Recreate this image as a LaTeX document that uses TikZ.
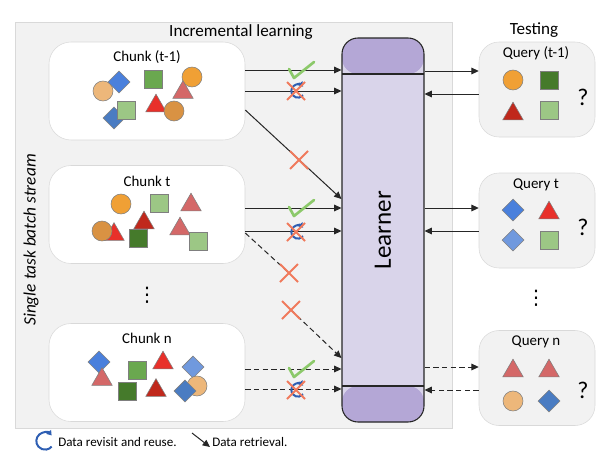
\documentclass[tikz,border=0pt]{standalone}
\usepackage{fontspec}
\setmainfont{Carlito}
\newfontfamily\symfont{DejaVu Sans}
\usetikzlibrary{arrows.meta,shapes.geometric}
\definecolor{panelfill}{HTML}{F2F2F2}
\definecolor{paneledge}{HTML}{D9D9D9}
\definecolor{lrnhead}{HTML}{B4A7D6}
\definecolor{lrnbody}{HTML}{D9D4EA}
\definecolor{shpedge}{HTML}{7F7F7F}
\definecolor{orng}{HTML}{F0A035}
\definecolor{lorng}{HTML}{EDB77A}
\definecolor{dorng}{HTML}{D99243}
\definecolor{blu}{HTML}{4A80DC}
\definecolor{dblu}{HTML}{4A7CC2}
\definecolor{lblu}{HTML}{7099DE}
\definecolor{grn}{HTML}{6AA84F}
\definecolor{lgrn}{HTML}{9CC785}
\definecolor{dgrn}{HTML}{457A2B}
\definecolor{rd}{HTML}{E8302A}
\definecolor{drd}{HTML}{C0281C}
\definecolor{pnk}{HTML}{D46868}
\definecolor{tickc}{HTML}{8CC96A}
\definecolor{crossc}{HTML}{F07A5C}
\definecolor{revc}{HTML}{2F5FB3}
\definecolor{conc}{HTML}{262626}
\tikzset{
  titletxt/.style={font=\fontsize{12.8}{15}\selectfont},
  lbl/.style={font=\fontsize{11.2}{13}\selectfont, inner sep=0pt},
  legendtxt/.style={font=\fontsize{9.8}{11}\selectfont, inner sep=0pt, anchor=west},
  qmark/.style={font=\fontsize{18}{20}\selectfont, inner sep=0pt},
  vdts/.style={font=\symfont\fontsize{15}{17}\selectfont, inner sep=0pt},
  chunkbox/.style={draw=paneledge, fill=white, rounded corners=16.5pt,
    minimum width=147pt, minimum height=73.5pt, inner sep=0pt},
  querybox/.style={draw=paneledge, fill=panelfill, rounded corners=15pt,
    minimum width=87pt, minimum height=71.25pt, inner sep=0pt},
  circ/.style={circle, draw=shpedge, minimum size=15pt, inner sep=0pt},
  sq/.style={rectangle, draw=shpedge, minimum size=13.5pt, inner sep=0pt},
  tri/.style={regular polygon, regular polygon sides=3, draw=shpedge,
    minimum size=17.8pt, inner sep=0pt},
  dia/.style={diamond, draw=shpedge, minimum size=16.5pt, inner sep=0pt},
  conn/.style={draw=conc, line width=0.75pt, -{Triangle[length=5.5pt,width=5pt]}},
  dline/.style={draw=conc, line width=0.75pt, dash pattern=on 4pt off 2.5pt},
  dconn/.style={conn, dash pattern=on 4pt off 2.5pt},
  tick/.pic={\draw[tickc, line width=2pt, line cap=round, line join=round]
    (-11,-1) -- (-6,8) -- (14,-8);},
  cross/.pic={\draw[crossc, line width=1.4pt] (-9,-9) -- (9,9) (-9,9) -- (9,-9);},
  revisit/.pic={\draw[revc, line width=1.5pt, {Triangle[length=3.5pt,width=4.5pt]}-]
    (40:5pt) arc[start angle=40, end angle=320, radius=5pt];},
}
\begin{document}
\begin{tikzpicture}[x=0.75pt,y=-0.75pt]
  \useasboundingbox (0,0) rectangle (598,450);
  % stream panel
  \node[draw=paneledge, fill=panelfill, minimum width=327.75pt,
    minimum height=304.5pt, inner sep=0pt] (panel) at (233.5,225) {};
  \node[titletxt] (inc) at (241,32) {Incremental learning};
  \node[titletxt] (test) at (534,30) {Testing};
  \node[font=\fontsize{13}{15}\selectfont\itshape, rotate=90] (stream) at (31,240)
    {Single task batch stream};

  % chunks
  \node[chunkbox] (ct1) at (147,91) {};
  \node[chunkbox] (ct) at (147,214.5) {};
  \node[chunkbox] (cn) at (147,372.5) {};
  \node[lbl] (lct1) at (147,57) {Chunk (t-1)};
  \node[lbl] (lct) at (147,181) {Chunk t};
  \node[lbl] (lcn) at (147,338) {Chunk n};
  \node[vdts] (cdots) at (147,295) {⋮};

  % chunk (t-1)
  \node[circ, fill=lorng] (a1) at (103,91) {};
  \node[dia, fill=blu] (a2) at (119,82) {};
  \node[sq, fill=grn] (a3) at (153,79) {};
  \node[circ, fill=orng] (a4) at (192,77) {};
  \node[tri, fill=pnk] (a5) at (183,92.5) {};
  \node[tri, fill=rd] (a6) at (156,106) {};
  \node[circ, fill=dorng] (a7) at (174,111) {};
  \node[dia, fill=dblu] (a8) at (114,118) {};
  \node[sq, fill=lgrn] (a9) at (126,110) {};

  % chunk t
  \node[circ, fill=orng] (b1) at (121,204) {};
  \node[sq, fill=lgrn] (b2) at (159,203) {};
  \node[tri, fill=pnk] (b3) at (191,205) {};
  \node[tri, fill=drd] (b4) at (144,223) {};
  \node[tri, fill=rd] (b5) at (114,234.5) {};
  \node[circ, fill=dorng] (b6) at (102,231) {};
  \node[sq, fill=dgrn] (b7) at (138,238) {};
  \node[tri, fill=pnk] (b8) at (180,229) {};
  \node[sq, fill=lgrn] (b9) at (198,241) {};

  % chunk n
  \node[dia, fill=blu] (c1) at (99,362) {};
  \node[tri, fill=pnk] (c2) at (102,379.5) {};
  \node[sq, fill=grn] (c3) at (137,370) {};
  \node[tri, fill=rd] (c4) at (163,363) {};
  \node[dia, fill=lblu] (c5) at (193,367) {};
  \node[circ, fill=lorng] (c6) at (197,386) {};
  \node[dia, fill=dblu] (c7) at (185,391) {};
  \node[sq, fill=dgrn] (c8) at (127,391) {};
  \node[tri, fill=drd] (c9) at (156,390.5) {};

  % learner
  \node[draw=conc, line width=0.8pt, fill=lrnbody, rounded corners=12pt,
    minimum width=61.5pt, minimum height=288pt, inner sep=0pt,
    path picture={
      \fill[lrnhead] (path picture bounding box.north west) rectangle
        ([yshift=-27pt]path picture bounding box.north east);
      \fill[lrnhead] (path picture bounding box.south west) rectangle
        ([yshift=27pt]path picture bounding box.south east);
      \draw[conc, line width=1pt] ([yshift=-27pt]path picture bounding box.north west)
        -- ([yshift=-27pt]path picture bounding box.north east);
      \draw[conc, line width=1pt] ([yshift=27pt]path picture bounding box.south west)
        -- ([yshift=27pt]path picture bounding box.south east);
    }] (learner) at (383,230) {};
  \node[font=\fontsize{18.8}{22}\selectfont, rotate=90] (llearn) at (learner.center) {Learner};

  % queries
  \node[querybox] (qt1) at (537,89.5) {};
  \node[querybox] (qt) at (537,220.5) {};
  \node[querybox] (qn) at (537,378) {};
  \node[lbl] (lqt1) at (536,53) {Query (t-1)};
  \node[lbl] (lqt) at (536,185) {Query t};
  \node[lbl] (lqn) at (536,342) {Query n};
  \node[vdts] (qdots) at (536,298) {⋮};

  \node[circ, fill=orng] (p1) at (513,80) {};
  \node[sq, fill=dgrn] (p2) at (549,80) {};
  \node[tri, fill=drd] (p3) at (513,114) {};
  \node[sq, fill=lgrn] (p4) at (549,110) {};
  \node[qmark] (qm1) at (583,97) {?};

  \node[dia, fill=blu] (q1) at (513,210) {};
  \node[tri, fill=rd] (q2) at (549,213) {};
  \node[dia, fill=lblu] (q3) at (513,240) {};
  \node[sq, fill=lgrn] (q4) at (549,240) {};
  \node[qmark] (qm2) at (583,227) {?};

  \node[tri, fill=pnk] (r1) at (513,371) {};
  \node[tri, fill=pnk] (r2) at (549,371) {};
  \node[circ, fill=lorng] (r3) at (513,401) {};
  \node[dia, fill=dblu] (r4) at (549,401) {};
  \node[qmark] (qm3) at (583,390) {?};

  % connectors
  \coordinate (xa) at (289,273);
  \coordinate (xb) at (291,310);
  \begin{scope}
    \draw[conn] (ct1.east |- 0,70) -- (learner.west |- 0,70);
    \draw[conn] (ct1.east |- 0,91) -- (learner.west |- 0,91);
    \draw[conn] (ct1.east |- 0,110) -- (learner.west |- 0,199);
    \draw[conn] (ct.east |- 0,208) -- (learner.west |- 0,208);
    \draw[conn] (ct.east |- 0,231) -- (learner.west |- 0,231);
    \draw[dline] (ct.east |- 0,233) -- (xa);
    \draw[dconn] (xb) -- (learner.west |- 0,358);
    \draw[dconn] (cn.east |- 0,369) -- (learner.west |- 0,369);
    \draw[dconn] (cn.east |- 0,389) -- (learner.west |- 0,389);
    \draw[conn] (learner.east |- 0,71) -- (qt1.west |- 0,71);
    \draw[conn] (qt1.west |- 0,94) -- (learner.east |- 0,94);
    \draw[conn] (learner.east |- 0,208) -- (qt.west |- 0,208);
    \draw[conn] (qt.west |- 0,231) -- (learner.east |- 0,231);
    \draw[dconn] (learner.east |- 0,367) -- (qn.west |- 0,367);
    \draw[dconn] (qn.west |- 0,390) -- (learner.east |- 0,390);
  \end{scope}

  % marks
  \pic at (300,70) {tick};
  \pic at (300,208) {tick};
  \pic at (300,369) {tick};
  \pic at (298,91) {revisit};
  \pic at (298,232) {revisit};
  \pic at (298,390) {revisit};
  \pic at (296,91) {cross};
  \pic at (296,232) {cross};
  \pic at (296,390) {cross};
  \pic at (299,160) {cross};
  \pic at (xa) {cross};
  \pic at (xb) {cross};

  % legend
  \pic[scale=1.3] at (45,441) {revisit};
  \node[legendtxt] (lrev) at (58,442) {Data revisit and reuse.};
  \coordinate (ra) at (192,433);
  \coordinate (rb) at (210,447);
  \draw[conn] (ra) -- (rb);
  \node[legendtxt] (lret) at (212,442) {Data retrieval.};
\end{tikzpicture}
\end{document}
